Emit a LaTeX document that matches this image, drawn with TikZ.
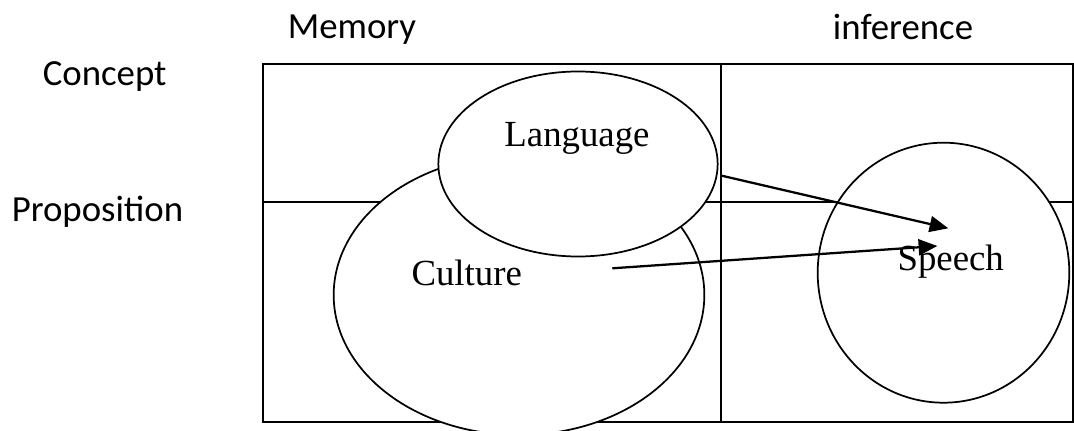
\documentclass[tikz,border=0pt]{standalone}
\usepackage{fontspec}
\setmainfont{Liberation Serif}
\newfontfamily\calib{Carlito}
\usetikzlibrary{shapes.geometric,arrows.meta}
\begin{document}
\begin{tikzpicture}[x=0.75pt,y=-0.75pt,
  gridline/.style={line width=1.5pt},
  blob/.style={ellipse,draw,fill=white,line width=1.3pt,inner sep=0pt,outer sep=0pt},
  lbl/.style={font=\fontsize{27.6}{33}\selectfont,anchor=base,inner sep=0pt},
  axislbl/.style={font=\calib\fontsize{27.6}{33}\selectfont,anchor=base,inner sep=0pt},
  arr/.style={line width=1.7pt,-{Triangle[length=14pt,width=12pt]}}]
\useasboundingbox (0,0) rectangle (1074,431);
\clip (0,0) rectangle (1074,431);
\fill[white] (0,0) rectangle (1074,431);
% grid
\draw[gridline] (263,64) rectangle (1073,422);
\draw[gridline] (721,64) -- (721,422);
\draw[gridline] (263,202) -- (1073,202);
% axis labels
\node[axislbl] (memory) at (352,38.3) {Memory};
\node[axislbl] (inference) at (903,39.3) {inference};
\node[axislbl] (concept) at (104.7,86) {Concept};
\node[axislbl] (proposition) at (97.5,221.7) {Proposition};
% ellipses
\node[blob,minimum width=278pt,minimum height=210pt] (culture) at (519,295) {};
\node[blob,minimum width=209.5pt,minimum height=138.75pt] (language) at (578,164) {};
\node[blob,minimum width=188.7pt,minimum height=195pt] (speech) at (943.5,272.7) {};
% texts
\node[lbl] (langtxt) at (577,146.7) {Language};
\node[lbl] (culttxt) at (466.7,285) {Culture};
\node[lbl] (speechtxt) at (950.7,270.7) {Speech};
% arrows
\coordinate (a1s) at (721.7,175.7);
\coordinate (a1e) at (948.3,228.3);
\coordinate (a2s) at (612.3,268.3);
\coordinate (a2e) at (937.3,246);
\draw[arr] (a1s) -- (a1e);
\draw[arr] (a2s) -- (a2e);
\end{tikzpicture}
\end{document}
